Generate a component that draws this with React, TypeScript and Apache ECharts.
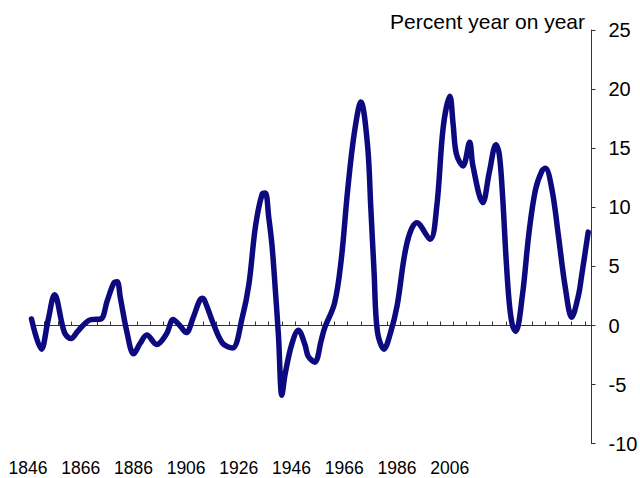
import React, { useEffect, useRef } from "react";
import * as echarts from "echarts";

const START_YEAR = 1846;
const YEARS = [
  1846, 1849, 1851, 1853, 1856, 1858, 1860, 1862, 1864, 1867, 1869, 1871, 1872, 1873, 1875, 1877, 1879,
  1881, 1884, 1887, 1889, 1891, 1893, 1895, 1897, 1898, 1899, 1901, 1904, 1907, 1910, 1912, 1914, 1916,
  1917, 1918, 1919, 1920, 1921, 1922, 1923, 1925, 1927, 1929, 1930, 1932, 1934, 1935, 1938, 1940, 1942,
  1944, 1946, 1948, 1949, 1950, 1951, 1953, 1955, 1957, 1960, 1963, 1967, 1969, 1971, 1973, 1974, 1975,
  1977, 1979, 1980, 1983, 1985, 1987, 1988, 1989, 1990, 1991, 1992, 1993, 1995, 1997, 1999, 2001, 2002,
  2004, 2006, 2008, 2010, 2012, 2013, 2015,
];
const VALUES = [
  0.55, -2.0, 0.4, 2.6, -0.6, -1.1, -0.5, 0.1, 0.5, 0.55, 2.1, 3.6, 3.7, 2.3, -0.6, -2.4, -1.5,
  -0.8, -1.6, -0.7, 0.5, 0.0, -0.6, 0.6, 2.1, 2.3, 1.8, 0.3, -1.5, -1.9, 0.7, 3.5, 8.4, 11.1,
  11.2, 9.2, 6.8, 3.1, -1.0, -5.9, -4.1, -1.6, -0.4, -1.6, -2.6, -3.1, -1.2, -0.2, 1.9, 5.5, 11.5,
  16.3, 18.9, 15.3, 10.0, 4.5, -0.5, -2.0, -0.6, 1.7, 7.0, 8.7, 7.3, 10.0, 16.8, 19.4, 17.0, 14.5,
  13.5, 15.5, 13.5, 10.4, 13.0, 15.3, 14.5, 11.0, 6.0, 2.0, 0.0, -0.5, 2.5, 7.8, 11.5, 13.1, 13.3,
  11.5, 7.5, 3.3, 0.7, 2.5, 4.2, 7.9,
];
const TICK_LABELS = ["1846", "1866", "1886", "1906", "1926", "1946", "1966", "1986", "2006"];
const Y_MIN = -10;
const Y_MAX = 25;
const Y_STEP = 5;
const X_SPAN = 170;
const TITLE = "Percent year on year";

const FONT = "'Liberation Sans', Arial, sans-serif";

export default function App() {
  const ref = useRef<HTMLDivElement>(null);
  useEffect(() => {
    if (!ref.current) return;
    const chart = echarts.init(ref.current, undefined, { renderer: "svg" });
    const data = YEARS.map((y, i) => [y - START_YEAR, VALUES[i]]);
    chart.setOption({
      animation: false,
      title: {
        text: TITLE,
        right: 55,
        top: 11,
        padding: 0,
        textStyle: { fontFamily: FONT, fontSize: 21, fontWeight: "normal", color: "#000" },
      },
      grid: {
        left: 31.5,
        right: 48.5,
        top: 30,
        bottom: 34.3,
        containLabel: false,
        outerBoundsMode: "none",
      },
      xAxis: [
        {
          type: "value",
          min: 0,
          max: X_SPAN,
          interval: 4,
          axisLine: { show: true, onZero: true, lineStyle: { color: "#333", width: 1 } },
          axisTick: { show: true, inside: true, length: 4, lineStyle: { color: "#333" } },
          axisLabel: { show: false },
          splitLine: { show: false },
        },
        {
          type: "value",
          position: "bottom",
          min: 0,
          max: X_SPAN,
          interval: 16,
          axisLine: { show: false, onZero: false },
          axisTick: { show: false },
          splitLine: { show: false },
          axisLabel: {
            show: true,
            margin: 15,
            fontFamily: FONT,
            fontSize: 17.5,
            color: "#000",
            padding: [0, 7, 0, 0],
            showMaxLabel: false,
            formatter: (v: number) => {
              const k = v / 16;
              return Number.isInteger(k) && k < TICK_LABELS.length ? TICK_LABELS[k] : "";
            },
          },
        },
      ],
      yAxis: {
        type: "value",
        position: "right",
        min: Y_MIN,
        max: Y_MAX,
        interval: Y_STEP,
        axisLine: { show: true, onZero: false, lineStyle: { color: "#333", width: 1 } },
        axisTick: { show: true, inside: false, length: 4, lineStyle: { color: "#333" } },
        axisLabel: { margin: 17, fontFamily: FONT, fontSize: 20, color: "#000" },
        splitLine: { show: false },
      },
      series: [
        {
          type: "line",
          xAxisIndex: 0,
          data,
          smooth: 0.35,
          showSymbol: false,
          lineStyle: { color: "#0d0a80", width: 5.5, join: "round", cap: "round" },
        },
      ],
    });
    return () => chart.dispose();
  }, []);
  return (
    <div
      ref={ref}
      style={{ position: "absolute", left: 0, top: 0, width: 640, height: 478 }}
    />
  );
}
